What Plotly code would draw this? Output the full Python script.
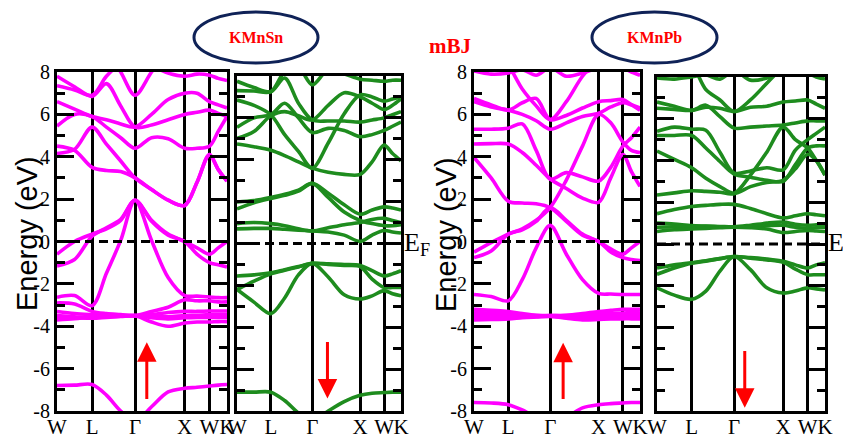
import plotly.graph_objects as go

W_PX, H_PX = 843, 439

# k-path W-L-G-X-W-K (fcc), high-symmetry positions
K_TICKS = [0.0, 0.707, 1.573, 2.573, 3.073, 3.427]
K_LABELS = ["W", "L", "Γ", "X", "W", "K"]
# sampling columns along the path (symmetry points plus intermediate points)
K_GRID = [0.0, 0.354, 0.707, 0.996, 1.284, 1.573, 1.906, 2.240, 2.573, 2.823, 3.073, 3.250, 3.427]

E_TICKS = [-8, -6, -4, -2, 0, 2, 4, 6, 8]
E_TICK_TEXT = ["-8", "-6", "-4", "-2", "0", "2", "4", "6", "8"]
E_MINOR = [-7, -5, -3, -1, 1, 3, 5, 7]

# KMnSn, spin up (eV at K_GRID)
SN_UP = [
    [7.80, 7.30, 6.85, 7.45, 6.40, 5.40, 5.50, 5.75, 6.00, 6.10, 6.20, 6.05, 5.90],
    [7.35, 7.15, 6.90, 7.80, 8.40, 8.60, 8.30, 7.95, 7.80, 7.90, 7.85, 7.70, 7.60],
    [9.00, 9.00, 9.00, 9.00, 8.00, 6.90, 8.00, 9.00, 9.00, 9.00, 9.00, 9.00, 9.00],
    [6.60, 6.25, 5.90, 5.75, 5.55, 5.40, 6.00, 6.70, 7.00, 7.00, 6.60, 6.45, 6.30],
    [5.45, 6.00, 5.90, 5.40, 4.90, 4.40, 4.90, 4.85, 4.40, 4.40, 4.50, 5.20, 5.90],
    [4.50, 4.30, 3.50, 3.35, 3.30, 3.00, 2.45, 1.95, 1.70, 2.80, 4.10, 3.40, 2.85],
    [4.15, 4.35, 5.40, 4.60, 3.80, 3.00, 2.45, 1.95, 1.70, 2.80, 4.10, 3.40, 2.85],
    [-0.60, 0.00, 0.35, 0.60, 1.00, 1.95, 1.00, 0.35, 0.00, -0.30, -0.60, -0.30, 0.00],
    [-1.15, -0.85, 0.25, 0.65, 1.05, 1.95, 0.95, 0.30, 0.00, -0.60, -1.00, -1.10, -1.20],
    [-2.63, -2.55, -3.03, -1.50, 0.05, 1.95, 0.05, -1.70, -2.55, -2.58, -2.62, -2.65, -2.65],
    [-2.90, -2.95, -3.30, -3.40, -3.45, -3.50, -3.30, -3.10, -2.75, -2.80, -2.80, -2.85, -2.85],
    [-3.30, -3.40, -3.45, -3.48, -3.50, -3.50, -3.45, -3.35, -3.30, -3.30, -3.28, -3.28, -3.28],
    [-3.50, -3.55, -3.60, -3.55, -3.52, -3.50, -3.55, -3.55, -3.50, -3.48, -3.45, -3.45, -3.45],
    [-3.70, -3.65, -3.55, -3.52, -3.50, -3.50, -3.80, -4.00, -3.85, -3.80, -3.80, -3.78, -3.78],
    [-3.55, -3.60, -3.62, -3.58, -3.54, -3.50, -3.60, -3.65, -3.60, -3.58, -3.58, -3.58, -3.58],
    [-6.80, -6.78, -6.75, -7.25, -8.00, -8.50, -7.80, -7.10, -6.93, -6.88, -6.82, -6.78, -6.75],
]

# KMnSn, spin down
SN_DN = [
    [7.75, 7.45, 7.25, 7.90, 6.70, 5.90, 5.85, 5.85, 5.80, 5.90, 6.00, 6.15, 6.30],
    [7.30, 7.28, 7.25, 8.20, 8.40, 7.58, 8.30, 8.10, 7.85, 7.80, 7.75, 7.80, 7.80],
    [6.85, 6.60, 6.15, 5.20, 4.40, 3.60, 4.80, 6.20, 7.10, 7.00, 6.80, 6.90, 7.00],
    [5.55, 6.00, 6.15, 6.70, 6.00, 5.30, 5.50, 5.40, 5.10, 5.20, 5.40, 5.60, 5.80],
    [4.75, 4.62, 4.45, 4.20, 3.90, 3.60, 3.40, 3.30, 3.30, 3.90, 4.70, 4.30, 3.95],
    [5.02, 5.35, 6.10, 6.30, 6.10, 5.90, 6.60, 7.20, 7.00, 6.70, 6.40, 6.60, 6.90],
    [0.70, 0.72, 0.72, 0.68, 0.64, 0.60, 0.55, 0.40, 0.10, 0.40, 0.62, 0.55, 0.50],
    [0.95, 1.00, 0.95, 0.85, 0.70, 0.60, 0.75, 0.90, 1.00, 1.15, 1.20, 1.10, 1.00],
    [1.98, 2.05, 2.20, 2.35, 2.55, 2.87, 2.20, 1.50, 1.10, 0.95, 0.85, 0.85, 0.90],
    [1.65, 1.95, 2.15, 2.30, 2.50, 2.87, 2.40, 1.85, 1.40, 1.60, 1.75, 1.70, 1.60],
    [-1.55, -1.50, -1.40, -1.25, -1.10, -0.95, -0.97, -1.00, -1.05, -1.30, -1.55, -1.45, -1.30],
    [-2.20, -1.80, -1.45, -1.28, -1.12, -0.95, -1.00, -1.05, -1.10, -1.70, -2.10, -2.10, -2.10],
    [-2.20, -2.80, -3.35, -2.60, -1.50, -0.95, -1.60, -2.45, -2.65, -2.50, -2.25, -2.40, -2.50],
    [-7.10, -7.10, -7.10, -7.50, -8.10, -8.50, -8.00, -7.55, -7.25, -7.15, -7.12, -7.10, -7.10],
]

# KMnPb, spin up
PB_UP = [
    [8.05, 7.90, 7.95, 8.10, 7.85, 8.20, 7.80, 7.95, 8.20, 8.30, 8.20, 8.00, 7.85],
    [9.00, 9.00, 8.30, 7.20, 6.40, 5.75, 6.60, 7.80, 8.60, 9.00, 9.00, 9.00, 9.00],
    [6.75, 6.45, 6.20, 6.55, 6.75, 5.75, 5.95, 6.30, 6.60, 6.65, 6.70, 6.45, 6.20],
    [6.60, 6.35, 6.20, 6.00, 5.70, 5.30, 5.60, 5.90, 6.05, 6.35, 6.55, 6.45, 6.30],
    [5.30, 5.30, 5.35, 5.55, 4.30, 2.95, 3.25, 3.05, 2.85, 3.50, 4.50, 4.90, 5.40],
    [4.60, 4.62, 4.60, 4.20, 3.60, 2.95, 2.50, 2.05, 1.85, 3.00, 4.10, 3.30, 2.60],
    [-0.50, -0.05, 0.35, 0.60, 1.00, 1.60, 2.90, 4.50, 6.00, 5.60, 4.70, 4.30, 4.20],
    [-0.76, -0.45, 0.35, 0.55, 0.95, 1.60, 1.00, 0.35, 0.00, -0.35, -0.60, -0.30, 0.00],
    [3.97, 3.00, 1.90, 1.82, 1.78, 1.60, 0.95, 0.30, 0.00, -0.50, -0.76, -0.85, -0.90],
    [-2.50, -2.60, -2.80, -1.80, -0.30, 0.76, -0.60, -1.80, -2.45, -2.48, -2.50, -2.50, -2.50],
    [-3.20, -3.25, -3.30, -3.40, -3.48, -3.50, -3.48, -3.40, -3.30, -3.25, -3.20, -3.20, -3.20],
    [-3.35, -3.38, -3.40, -3.45, -3.50, -3.50, -3.50, -3.48, -3.42, -3.40, -3.38, -3.36, -3.35],
    [-3.50, -3.50, -3.52, -3.52, -3.52, -3.52, -3.55, -3.55, -3.52, -3.50, -3.50, -3.50, -3.50],
    [-3.62, -3.62, -3.60, -3.57, -3.55, -3.53, -3.62, -3.70, -3.68, -3.66, -3.65, -3.65, -3.65],
    [-3.70, -3.68, -3.65, -3.60, -3.56, -3.54, -3.58, -3.62, -3.60, -3.60, -3.60, -3.58, -3.58],
    [-7.60, -7.62, -7.70, -7.95, -8.30, -8.50, -8.30, -7.85, -7.70, -7.65, -7.62, -7.60, -7.60],
]

# KMnPb, spin down
PB_DN = [
    [7.95, 7.90, 8.00, 8.10, 7.90, 8.30, 7.85, 7.95, 8.30, 8.40, 8.20, 8.00, 7.90],
    [9.00, 9.00, 8.60, 7.40, 6.90, 6.35, 6.90, 7.70, 8.50, 9.00, 9.00, 9.00, 9.00],
    [6.80, 6.60, 6.40, 6.65, 6.10, 5.55, 5.60, 5.65, 5.70, 5.80, 5.90, 5.90, 5.90],
    [6.50, 6.45, 6.40, 6.55, 6.50, 6.35, 6.55, 6.60, 6.80, 6.85, 6.90, 6.70, 6.50],
    [5.40, 5.60, 5.50, 5.45, 4.40, 3.40, 3.50, 3.65, 3.55, 4.50, 5.00, 5.30, 5.60],
    [5.20, 5.20, 5.20, 4.60, 3.95, 3.35, 3.20, 3.05, 3.00, 3.80, 4.60, 4.70, 4.70],
    [4.45, 4.05, 3.65, 3.15, 2.75, 2.42, 2.75, 2.95, 3.05, 3.60, 4.30, 4.00, 3.30],
    [2.35, 2.45, 2.55, 2.52, 2.48, 2.42, 3.30, 4.40, 5.60, 5.00, 4.60, 4.00, 3.30],
    [1.45, 1.65, 1.80, 1.85, 1.90, 1.90, 1.70, 1.45, 1.25, 1.35, 1.45, 1.40, 1.35],
    [1.00, 0.95, 0.88, 0.86, 0.84, 0.82, 0.90, 1.00, 1.05, 0.95, 0.90, 0.92, 0.95],
    [0.80, 0.82, 0.85, 0.85, 0.82, 0.80, 0.85, 0.88, 0.90, 0.80, 0.75, 0.78, 0.80],
    [0.60, 0.68, 0.72, 0.75, 0.78, 0.80, 0.78, 0.72, 0.55, 0.60, 0.65, 0.62, 0.60],
    [-1.15, -1.00, -0.90, -0.80, -0.70, -0.60, -0.65, -0.72, -0.83, -1.00, -1.15, -1.00, -0.90],
    [-1.45, -1.15, -0.92, -0.82, -0.70, -0.60, -0.68, -0.76, -0.88, -1.20, -1.47, -1.47, -1.47],
    [-2.10, -2.45, -2.65, -2.26, -1.30, -0.60, -1.23, -2.10, -2.35, -2.25, -2.10, -2.15, -2.20],
]

MAGENTA = "#ff00ff"
GREEN = "#1e8c1e"

# panel boxes in pixels: (left, right, top, bottom)
PANELS = [
    dict(bands=SN_UP, color=MAGENTA, box=(57, 227, 72, 411), labels=True),
    dict(bands=SN_DN, color=GREEN, box=(237, 401, 76, 411), labels=False),
    dict(bands=PB_UP, color=MAGENTA, box=(474, 640, 72, 411), labels=True),
    dict(bands=PB_DN, color=GREEN, box=(657, 825, 77, 411), labels=False),
]

# spin arrows: (k, tail energy, head energy)
SPIN_ARROWS = [(1.81, -7.5, -4.75), (1.89, -4.63, -7.4), (1.84, -7.5, -4.78), (1.79, -5.05, -7.85)]

SERIF = "Liberation Serif"


def px(x):
    return x / W_PX


def py(y):
    return 1 - y / H_PX


fig = go.Figure()
layout = {}
annotations = []

for i, p in enumerate(PANELS, start=1):
    xa = "x" if i == 1 else f"x{i}"
    ya = "y" if i == 1 else f"y{i}"
    l, r, t, b = p["box"]
    for band in p["bands"]:
        fig.add_trace(go.Scatter(
            x=K_GRID, y=band, mode="lines", xaxis=xa, yaxis=ya,
            line=dict(color=p["color"], width=3.6, shape="spline", smoothing=0.9),
            showlegend=False, hoverinfo="skip"))
    # Fermi level
    fig.add_trace(go.Scatter(
        x=[K_TICKS[0], K_TICKS[-1]], y=[0, 0], mode="lines", xaxis=xa, yaxis=ya,
        line=dict(color="black", width=3, dash="9px,5px"),
        showlegend=False, hoverinfo="skip"))

    layout["xaxis" if i == 1 else f"xaxis{i}"] = dict(
        domain=[px(l), px(r)], range=[K_TICKS[0], K_TICKS[-1]], anchor=ya,
        tickvals=K_TICKS, ticktext=K_LABELS, ticks="", tickangle=0, automargin=False,
        ticklabelstandoff=-5,
        showgrid=True, gridcolor="black", gridwidth=2.5,
        showline=True, linecolor="black", linewidth=3, mirror=True,
        zeroline=False, tickfont=dict(family=SERIF, size=21, color="black"))
    layout["yaxis" if i == 1 else f"yaxis{i}"] = dict(
        domain=[py(b), py(t)], range=[-8, 8], anchor=xa, automargin=False,
        tickvals=E_TICKS, ticktext=E_TICK_TEXT, ticks="inside",
        ticklen=17, tickwidth=3, tickcolor="black",
        minor=dict(tickvals=E_MINOR, ticks="inside", ticklen=8, tickwidth=3, tickcolor="black"),
        showline=True, linecolor="black", linewidth=3, mirror="allticks",
        showgrid=False, zeroline=False, showticklabels=p["labels"],
        tickfont=dict(family=SERIF, size=20, color="black"))

    k, e0, e1 = SPIN_ARROWS[i - 1]
    annotations.append(dict(
        x=k, y=e1, ax=k, ay=e0, xref=xa, yref=ya, axref=xa, ayref=ya,
        text="", showarrow=True, arrowhead=2, arrowsize=1.3,
        arrowwidth=3, arrowcolor="red"))

# axis titles
for xc in (27, 446):
    annotations.append(dict(
        x=px(xc), y=py(234), xref="paper", yref="paper", text="Energy (eV)",
        xanchor="center", yanchor="middle", textangle=-90, showarrow=False,
        font=dict(family="Liberation Sans", size=29, color="black")))

# Fermi-level labels
for xc in (402, 826):
    annotations.append(dict(
        x=px(xc), y=py(244), xref="paper", yref="paper", text="E<sub>F</sub>",
        xanchor="left", yanchor="middle", showarrow=False,
        font=dict(family=SERIF, size=26, color="black")))

# compound names and method label
annotations += [
    dict(x=px(256), y=py(37), xref="paper", yref="paper", text="<b>KMnSn</b>",
         xanchor="center", yanchor="middle", showarrow=False,
         font=dict(family=SERIF, size=16, color="red")),
    dict(x=px(654), y=py(37), xref="paper", yref="paper", text="<b>KMnPb</b>",
         xanchor="center", yanchor="middle", showarrow=False,
         font=dict(family=SERIF, size=16, color="red")),
    dict(x=px(450), y=py(46), xref="paper", yref="paper", text="<b>mBJ</b>",
         xanchor="center", yanchor="middle", showarrow=False,
         font=dict(family=SERIF, size=21, color="red")),
]

shapes = [
    dict(type="circle", xref="paper", yref="paper", x0=px(194), x1=px(318),
         y0=py(63), y1=py(12), line=dict(color="#0f2257", width=3)),
    dict(type="circle", xref="paper", yref="paper", x0=px(592), x1=px(717),
         y0=py(63), y1=py(12), line=dict(color="#0f2257", width=3)),
]

fig.update_layout(
    width=W_PX, height=H_PX, margin=dict(l=0, r=0, t=0, b=0),
    paper_bgcolor="white", plot_bgcolor="white",
    annotations=annotations, shapes=shapes, **layout)

fig.write_html("out.html")
